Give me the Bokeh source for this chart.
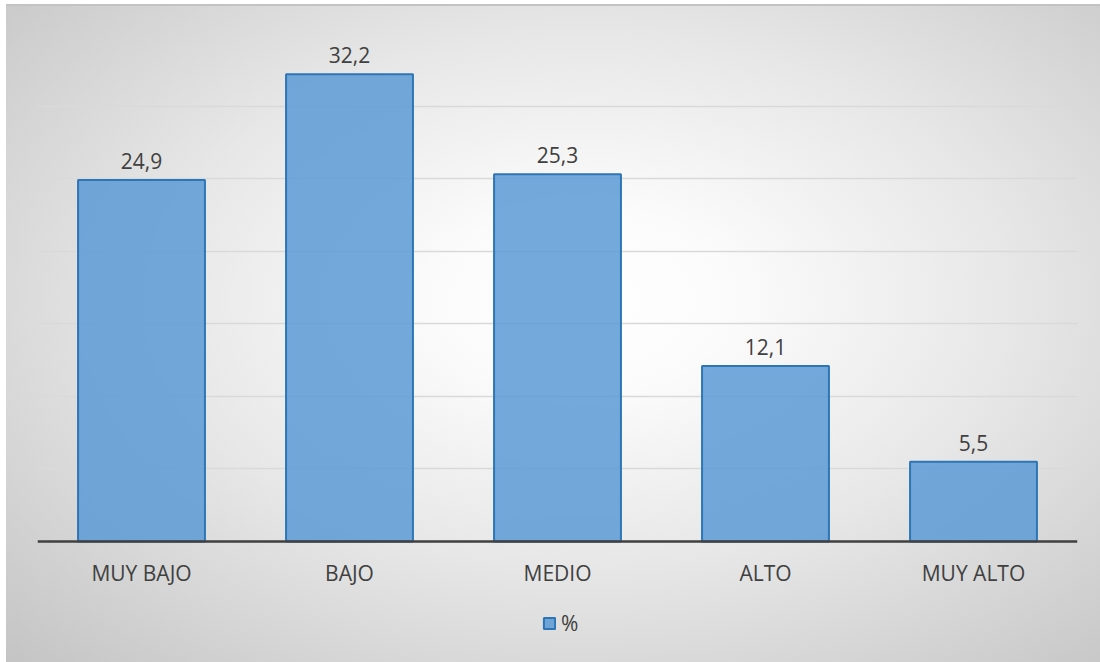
from bokeh.plotting import figure
from bokeh.models import (ColumnDataSource, FactorRange, Range1d, LabelSet,
                          Legend, LegendItem, FixedTicker, Span)
from bokeh.core.properties import value
from bokeh.embed import file_html
from bokeh.resources import INLINE

# Distribution by level (%)
categories = ["MUY BAJO", "BAJO", "MEDIO", "ALTO", "MUY ALTO"]
percent = [24.9, 32.2, 25.3, 12.1, 5.5]
value_labels = [f"{v:.1f}".replace(".", ",") for v in percent]
y_max = 35
grid_step = 5

source = ColumnDataSource(data=dict(cat=categories, val=percent, lbl=value_labels,
                                    base=[0] * len(categories)))

FONT = "Open Sans"
TEXT_COLOR = "#404040"
FONT_SIZE = "21px"

# The frame runs to the bottom of the canvas; the region below zero holds
# the category names and the legend.
PX_PER_UNIT = (541 - 33) / y_max
y_min = -(662 - 541) / PX_PER_UNIT

p = figure(
    width=1100, height=662,
    x_range=FactorRange(*categories, range_padding=0),
    y_range=Range1d(y_min, y_max),
    output_backend="svg", toolbar_location=None,
    min_border_left=37, min_border_right=23,
    min_border_top=33, min_border_bottom=0,
)

# Soft radial gradient behind the transparent canvas, with a thin top rule
p.styles = {
    "background-color": "white",
    "background-image": "linear-gradient(#c3c3c3, #c3c3c3), "
                        "radial-gradient(ellipse farthest-corner at 53% 45%, "
                        "#ffffff 0%, #fbfbfb 18%, #e7e7e7 52%, #c4c4c4 100%)",
    "background-position": "6px 4px, 6px 4px",
    "background-size": "1094px 2px, 1094px 658px",
    "background-repeat": "no-repeat, no-repeat",
}
p.background_fill_color = None
p.border_fill_color = None
p.outline_line_color = None

p.xaxis.visible = False
p.yaxis.visible = False

# Horizontal gridlines every 5 units from 0 to the top
p.ygrid.ticker = FixedTicker(ticks=list(range(0, y_max + 1, grid_step)))
p.ygrid.grid_line_color = "#d9d9d9"
p.ygrid.grid_line_width = 1.5
p.xgrid.grid_line_color = None

bars = p.vbar(x="cat", top="val", bottom="base", width=0.61, source=source,
              fill_color="#5b9bd5", fill_alpha=0.85,
              line_color="#2e75b6", line_width=2)

# Category baseline
p.add_layout(Span(location=0, dimension="width", line_color="#404040",
                  line_width=2.5))

value_text = LabelSet(x="cat", y="val", text="lbl", source=source,
                      y_offset=11, text_align="center", text_baseline="bottom",
                      text_font=value(FONT), text_font_size=FONT_SIZE,
                      text_color=TEXT_COLOR)
p.add_layout(value_text)

category_text = LabelSet(x="cat", y="base", text="cat", source=source,
                         y_offset=-31, text_align="center", text_baseline="middle",
                         text_font=value(FONT), text_font_size=FONT_SIZE,
                         text_color=TEXT_COLOR)
p.add_layout(category_text)

legend = Legend(items=[LegendItem(label="%", renderers=[bars])],
                location=(505, 25), orientation="horizontal",
                glyph_width=14, glyph_height=14, label_standoff=5,
                label_text_font=FONT, label_text_font_size=FONT_SIZE,
                label_text_color=TEXT_COLOR,
                background_fill_alpha=0, border_line_alpha=0,
                margin=0, padding=0)
p.add_layout(legend, "center")

open("out.html", "w").write(file_html(p, INLINE))
